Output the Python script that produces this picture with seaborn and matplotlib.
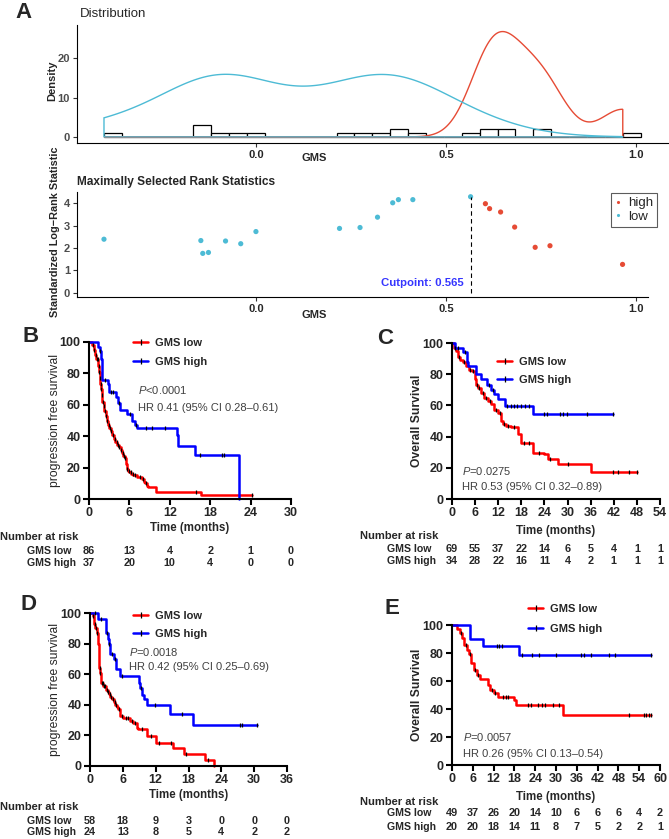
import numpy as np
import pandas as pd
import matplotlib
matplotlib.use('Agg')
import matplotlib.pyplot as plt
import seaborn as sns
from matplotlib.lines import Line2D
from matplotlib.transforms import blended_transform_factory

# ---------------- panel A: maximally selected rank statistics ----------------
gms = [-0.40, -0.145, -0.14, -0.125, -0.08, -0.04, 0.0, 0.22, 0.274, 0.32, 0.36,
       0.375, 0.413, 0.565, 0.604, 0.615, 0.644, 0.681, 0.735, 0.774, 0.965]
stat = [2.39, 2.33, 1.76, 1.80, 2.31, 2.19, 2.73, 2.87, 2.91, 3.37, 4.01,
        4.15, 4.15, 4.28, 3.97, 3.75, 3.60, 2.93, 2.03, 2.10, 1.27]
group = ['low'] * 14 + ['high'] * 7
cutpoint = 0.565

# ---------------- panel B: PFS cohort 1 ----------------
b_low_t = [0, 0.5, 0.7, 0.9, 1.1, 1.4, 1.5, 1.6, 1.7, 1.8, 1.9, 2.0, 2.2, 2.3, 2.5, 2.6, 2.8,
           3.0, 3.2, 3.4, 3.7, 3.9, 4.2, 4.4, 4.7, 4.9, 5.1, 5.3, 5.5, 5.6, 5.8, 6.0, 6.3,
           6.6, 7.2, 7.8, 8.1, 8.3, 8.6, 8.8, 10.0, 16.7, 24.2]
b_low_s = [100, 98, 95, 92, 89, 85, 81, 77, 73, 70, 66, 62, 59, 56, 53, 50, 47,
           45, 43, 41, 38, 36, 34.5, 33, 31, 29, 27.5, 26, 22, 19, 18, 17, 16,
           15, 14, 13, 11, 10, 8.5, 7.5, 4.7, 2.3, 2.3]
b_low_c = [0.6, 0.8, 1.0, 1.2, 1.3, 1.45, 1.55, 1.65, 1.75, 1.85, 1.95, 2.1, 2.25, 2.4,
           2.55, 2.7, 2.9, 3.1, 3.3, 3.5, 3.8, 4.1, 4.3, 4.5, 4.8, 5.0, 5.2, 5.4, 5.7, 5.9,
           6.2, 6.5, 6.9, 7.5, 8.0, 8.5, 15.9, 24.2]
b_high_t = [0, 1.3, 1.6, 1.8, 2.0, 2.8, 3.0, 4.0, 4.3, 4.6, 5.7, 6.4, 6.8, 7.2, 13.0, 13.2,
            15.7, 22.3]
b_high_s = [100, 97, 94, 89, 76, 73, 68, 65, 61, 57, 54, 50, 47, 45, 41, 34, 28, 0]
b_high_c = [1.7, 2.4, 3.3, 3.6, 4.5, 6.1, 7.0, 8.4, 9.3, 11.3, 16.5, 19.8, 20.1]
b_times = [0, 6, 12, 18, 24, 30]
b_risk_low = [86, 13, 4, 2, 1, 0]
b_risk_high = [37, 20, 10, 4, 0, 0]

# ---------------- panel C: OS cohort 1 ----------------
c_low_t = [0, 0.5, 1.1, 1.5, 2.2, 2.8, 3.7, 4.3, 5.2, 5.9, 6.3, 6.7, 7.6, 8.4, 9.3, 10.2,
           11.0, 11.9, 12.8, 13.2, 14.1, 15.3, 17.1, 17.9, 20.9, 24.0, 24.8, 27.4, 36.0, 48.0]
c_low_s = [100, 97, 95, 91, 89, 88, 85, 83, 82, 77, 73, 71, 68, 65, 63, 61,
           57, 55, 50, 48, 47, 46, 41.5, 36, 29.8, 28.7, 25.5, 22.3, 17.5, 17.5]
c_low_c = [0.8, 1.8, 3.0, 4.6, 5.5, 6.5, 6.9, 8.0, 8.9, 9.8, 11.5, 12.4, 13.6, 14.6, 16.0,
           18.8, 20.1, 22.5, 25.5, 30.0, 41.9, 43.0, 46.0, 48.0]
c_high_t = [0, 0.9, 2.8, 3.9, 4.1, 6.3, 7.6, 9.1, 10.1, 11.0, 11.9, 13.8, 20.9, 41.9]
c_high_s = [100, 97, 94, 88, 85, 80, 77, 73, 70, 67, 64, 59.6, 54.3, 54.3]
c_high_c = [1.5, 3.3, 9.6, 10.6, 14.3, 15.3, 16.1, 17.0, 17.9, 18.9, 20.0, 24.0, 24.7,
            28.1, 28.8, 29.8, 35.0, 41.9]
c_times = [0, 6, 12, 18, 24, 30, 36, 42, 48, 54]
c_risk_low = [69, 55, 37, 22, 14, 6, 5, 4, 1, 1]
c_risk_high = [34, 28, 22, 16, 11, 4, 2, 1, 1, 1]

# ---------------- panel D: PFS cohort 2 ----------------
d_low_t = [0, 0.5, 0.8, 1.0, 1.2, 1.4, 1.5, 1.6, 1.7, 1.8, 2.0, 2.1, 2.4, 2.9, 3.2, 3.4,
           3.7, 4.0, 4.3, 4.6, 4.9, 5.1, 5.5, 6.1, 7.3, 7.9, 8.5, 8.8, 10.4, 12.0, 15.1,
           17.1, 21.1, 22.7]
d_low_s = [100, 98, 93, 90, 87, 83, 80, 67, 64, 61, 57, 54, 52, 50, 48.5, 47,
           45, 43.5, 42, 40, 38.5, 37, 33, 31.5, 29.5, 28, 25, 24, 19.6, 15.2, 12,
           7.6, 3.9, 0]
d_low_c = [0.6, 0.9, 1.1, 1.3, 1.75, 1.9, 2.2, 2.3, 2.6, 2.7, 3.1, 3.3, 3.6, 3.9, 4.2,
           4.5, 4.8, 5.3, 5.8, 6.5, 7.0, 7.6, 8.2, 9.5, 11.2, 12.6, 14.8, 17.5, 21.5]
d_high_t = [0, 1.5, 2.9, 3.0, 3.2, 3.4, 3.7, 4.3, 4.7, 5.5, 9.0, 9.1, 9.5, 9.9, 10.5, 14.6,
            18.9, 30.5]
d_high_s = [100, 96, 91, 87, 83, 80, 73.5, 70, 63.5, 58.7, 54, 51, 46.7, 43.5, 39.6, 33.7,
            27.0, 27.0]
d_high_c = [1.0, 2.1, 3.1, 3.5, 4.0, 4.5, 5.8, 9.3, 11.9, 16.8, 27.4, 27.7, 30.5]
d_times = [0, 6, 12, 18, 24, 30, 36]
d_risk_low = [58, 18, 9, 3, 0, 0, 0]
d_risk_high = [24, 13, 8, 5, 4, 2, 2]

# ---------------- panel E: OS cohort 2 ----------------
e_low_t = [0, 1.5, 2.2, 2.9, 3.6, 4.3, 4.8, 5.6, 6.3, 7.3, 8.0, 10.4, 11.1, 12.0, 13.2,
           17.8, 18.5, 31.9, 57.3]
e_low_s = [100, 97, 94.5, 91, 86, 82.5, 79, 73, 68, 64.6, 61.2, 57, 53.8, 51.4, 48.3,
           46.7, 42.6, 35.9, 35.9]
e_low_c = [2.5, 3.9, 5.2, 6.6, 7.6, 11.5, 12.5, 14.7, 15.7, 16.1, 21.9, 22.8, 24.7, 26.0,
           26.7, 29.0, 31.0, 51.0, 55.4, 56.0, 56.7, 57.3]
e_high_t = [0, 5.1, 8.9, 19.2, 57.3]
e_high_s = [100, 90.2, 84.9, 78.5, 78.5]
e_high_c = [13.0, 13.7, 14.4, 20.1, 23.0, 25.2, 30.0, 37.2, 38.2, 40.1, 45.2, 47.1, 57.3]
e_times = [0, 6, 12, 18, 24, 30, 36, 42, 48, 54, 60]
e_risk_low = [49, 37, 26, 20, 14, 10, 6, 6, 6, 4, 2]
e_risk_high = [20, 20, 18, 14, 11, 8, 7, 5, 2, 2, 1]

NPG_RED, NPG_CYAN = '#E64B35', '#4DBBD5'
RED, BLUE = '#FF0000', '#0000FF'

sns.set_style('ticks')
plt.rcParams['font.family'] = ['Liberation Sans', 'DejaVu Sans']
plt.rcParams['mathtext.fontset'] = 'custom'
plt.rcParams['mathtext.it'] = 'Liberation Sans:italic'
plt.rcParams['mathtext.rm'] = 'Liberation Sans'

W, H = 669, 839
fig = plt.figure(figsize=(W / 100, H / 100), dpi=100)


def box(x0, y0, x1, y1):
    # pixel box (top-left origin) -> figure fraction rect
    return [x0 / W, 1 - y1 / H, (x1 - x0) / W, (y1 - y0) / H]


def count_density(vals, grid):
    # gaussian kde scaled to counts, bandwidth as R's bw.nrd0
    v = np.asarray(vals)
    q75, q25 = np.percentile(v, [75, 25])
    bw = 0.9 * min(v.std(ddof=1), (q75 - q25) / 1.34) * len(v) ** -0.2
    z = (grid[:, None] - v[None, :]) / bw
    return np.exp(-0.5 * z ** 2).sum(axis=1) / (bw * np.sqrt(2 * np.pi))


def style_a(ax):
    sns.despine(ax=ax)
    for sp in ['left', 'bottom']:
        ax.spines[sp].set_linewidth(0.8)
        ax.spines[sp].set_color('black')
    ax.tick_params(length=3, width=0.8, pad=2, labelsize=8, color='#333333')
    ax.tick_params(axis='y', labelcolor='#4D4D4D')
    for lab in ax.get_xticklabels() + ax.get_yticklabels():
        lab.set_fontweight('bold')


# ---- A: distribution
ax_d = fig.add_axes(box(77, 25, 668, 143))
lo, hi = min(gms), max(gms)
bw_hist = (hi - lo) / 29
edges = lo - 1e-6 + bw_hist * np.arange(31)
sns.histplot(x=gms, bins=edges, color='white', edgecolor='black', alpha=1, linewidth=0.9, ax=ax_d)
grid = np.linspace(lo, hi, 400)
for grp, col in [('high', NPG_RED), ('low', NPG_CYAN)]:
    vals = [g for g, k in zip(gms, group) if k == grp]
    dens = count_density(vals, grid)
    ax_d.fill(np.r_[lo, grid, hi], np.r_[0, dens, 0], facecolor='none', edgecolor=col, lw=1.0)
ax_d.set_xlim(-0.471, 1.084)
ax_d.set_ylim(-1.55, 28.5)
ax_d.set_xticks([0, 0.5, 1.0], ['0.0', '0.5', '1.0'])
ax_d.set_yticks([0, 10, 20])
style_a(ax_d)
ax_d.set_xlabel('GMS', fontsize=8, fontweight='bold', va='center')
ax_d.xaxis.set_label_coords(0.401, -0.13)
ax_d.set_ylabel('Density', fontsize=8, fontweight='bold', va='center')
ax_d.yaxis.set_label_coords(-0.042, 0.53)
fig.text(80 / W, 1 - 14 / H, 'Distribution', fontsize=9.5, va='center', ha='left')

# ---- A: maximally selected rank statistics
ax_s = fig.add_axes(box(77, 192, 648, 297))
df_a = pd.DataFrame({'GMS': gms, 'stat': stat, 'group': group})
sns.scatterplot(data=df_a, x='GMS', y='stat', hue='group', hue_order=['high', 'low'],
                palette=[NPG_RED, NPG_CYAN], s=14, edgecolor='none', ax=ax_s)
ax_s.vlines(cutpoint, 0, max(stat), colors='black', linestyles=(0, (4, 3)), lw=0.8)
ax_s.text(cutpoint - 0.018, 0.44, f'Cutpoint: {cutpoint}', color='#3535FF', fontsize=8.2,
          fontweight='bold', ha='right', va='center')
ax_s.set_xlim(-0.471, 1.032)
ax_s.set_ylim(-0.18, 4.49)
ax_s.set_xticks([0, 0.5, 1.0], ['0.0', '0.5', '1.0'])
ax_s.set_yticks([0, 1, 2, 3, 4])
style_a(ax_s)
ax_s.set_xlabel('GMS', fontsize=8, fontweight='bold', va='center')
ax_s.xaxis.set_label_coords(0.415, -0.17)
ax_s.set_ylabel('Standardized Log\u2212Rank Statistic', fontsize=7.8, fontweight='bold', va='center')
ax_s.yaxis.set_label_coords(-0.0385, 0.62)
handles, labels = ax_s.get_legend_handles_labels()
leg = ax_s.legend(handles, labels, loc='upper left', bbox_to_anchor=(611 / W, 1 - 193 / H),
                  bbox_transform=fig.transFigure, borderaxespad=0, frameon=True, fancybox=False,
                  edgecolor='#333333', fontsize=9.5, markerscale=0.6, handlelength=0.5,
                  handletextpad=0.5, borderpad=0.3, labelspacing=0.1)
leg.get_frame().set_linewidth(0.8)
fig.text(77 / W, 1 - 182 / H, 'Maximally Selected Rank Statistics', fontsize=8.6,
         fontweight='bold', va='center', ha='left')


# ---------------- KM helpers ----------------
def km_panel(ax, curves, xmax, xstep, ylabel, ylab_bold, ylab_x, xlab_y):
    for t, s, c, col in curves:
        sns.lineplot(x=t, y=s, drawstyle='steps-post', color=col, lw=1.8, estimator=None,
                     sort=False, ax=ax, clip_on=False)
        idx = np.searchsorted(t, c, side='right') - 1
        ax.plot(c, np.asarray(s)[idx], ls='none', marker='|', color='black', ms=3.5, mew=0.9,
                clip_on=False, zorder=4)
    ax.set_xlim(0, xmax)
    ax.set_ylim(0, 100)
    ax.set_xticks(range(0, xmax + 1, xstep))
    ax.set_yticks(range(0, 101, 20))
    sns.despine(ax=ax)
    for sp in ['left', 'bottom']:
        ax.spines[sp].set_linewidth(1.5)
        ax.spines[sp].set_color('black')
    ax.tick_params(length=4, width=1.5, pad=2, labelsize=9, color='black')
    for lab in ax.get_xticklabels() + ax.get_yticklabels():
        lab.set_fontweight('bold')
    ax.set_xlabel('Time (months)', fontsize=8.3, fontweight='bold', va='center')
    ax.xaxis.set_label_coords(0.5, xlab_y)
    ax.set_ylabel(ylabel, fontsize=8.7, fontweight='bold' if ylab_bold else 'normal', va='center')
    ax.yaxis.set_label_coords(ylab_x, 0.5)


def km_legend(ax, x_px, y_px, spacing):
    hs = [Line2D([], [], color=RED, lw=1.8, marker='|', ms=4, mec='black', mew=0.9),
          Line2D([], [], color=BLUE, lw=1.8, marker='|', ms=4, mec='black', mew=0.9)]
    ax.legend(hs, ['GMS low', 'GMS high'], loc='upper left',
              bbox_to_anchor=(x_px / W, 1 - (y_px - 4) / H), bbox_transform=fig.transFigure,
              frameon=False, borderpad=0, borderaxespad=0, handlelength=1.35,
              handletextpad=0.6, labelspacing=spacing, prop={'weight': 'bold', 'size': 8})


def km_text(ax, x, y1, y2, ptxt, hrtxt):
    ax.text(x, y1, ptxt, transform=ax.transAxes, fontsize=8, color='#404040', va='center')
    ax.text(x, y2, hrtxt, transform=ax.transAxes, fontsize=8, color='#404040', va='center')


def risk_table(ax, times, n_low, n_high, x_title, y_title, x_names, y_low, y_high):
    tr = blended_transform_factory(ax.transData, fig.transFigure)
    fig.text(x_title / W, 1 - y_title / H, 'Number at risk', fontsize=8, fontweight='bold', va='center')
    fig.text(x_names / W, 1 - y_low / H, 'GMS low', fontsize=7.6, fontweight='bold', va='center')
    fig.text(x_names / W, 1 - y_high / H, 'GMS high', fontsize=7.6, fontweight='bold', va='center')
    for t, a, b in zip(times, n_low, n_high):
        ax.text(t, 1 - y_low / H, str(a), transform=tr, ha='center', va='center', fontsize=7.8,
                fontweight='bold')
        ax.text(t, 1 - y_high / H, str(b), transform=tr, ha='center', va='center', fontsize=7.8,
                fontweight='bold')


# ---- B
ax_b = fig.add_axes(box(89, 342, 291, 499))
km_panel(ax_b, [(b_low_t, b_low_s, b_low_c, RED), (b_high_t, b_high_s, b_high_c, BLUE)],
         30, 6, 'progression free survival', False, -0.168, -0.185)
km_legend(ax_b, 133, 342, 0.77)
km_text(ax_b, 0.243, 0.694, 0.580, r'$\mathit{P}$<0.0001', 'HR 0.41 (95% CI 0.28\u20130.61)')
risk_table(ax_b, b_times, b_risk_low, b_risk_high, 0, 537, 27, 551, 563)

# ---- C
ax_c = fig.add_axes(box(452, 343, 660, 499))
km_panel(ax_c, [(c_low_t, c_low_s, c_low_c, RED), (c_high_t, c_high_s, c_high_c, BLUE)],
         54, 6, 'Overall Survival', True, -0.168, -0.205)
km_legend(ax_c, 497, 361, 0.72)
km_text(ax_c, 0.048, 0.179, 0.077, r'$\mathit{P}$=0.0275', 'HR 0.53 (95% CI 0.32\u20130.89)')
risk_table(ax_c, c_times, c_risk_low, c_risk_high, 360, 536, 387, 549, 561)

# ---- D
ax_dd = fig.add_axes(box(90, 613, 287, 766))
km_panel(ax_dd, [(d_low_t, d_low_s, d_low_c, RED), (d_high_t, d_high_s, d_high_c, BLUE)],
         36, 6, 'progression free survival', False, -0.178, -0.19)
km_legend(ax_dd, 133, 615, 0.72)
km_text(ax_dd, 0.198, 0.745, 0.647, r'$\mathit{P}$=0.0018', 'HR 0.42 (95% CI 0.25\u20130.69)')
risk_table(ax_dd, d_times, d_risk_low, d_risk_high, 0, 807, 27, 821, 832)

# ---- E
ax_e = fig.add_axes(box(452, 625, 660, 765))
km_panel(ax_e, [(e_low_t, e_low_s, e_low_c, RED), (e_high_t, e_high_s, e_high_c, BLUE)],
         60, 6, 'Overall Survival', True, -0.168, -0.229)
km_legend(ax_e, 528, 608, 0.87)
km_text(ax_e, 0.053, 0.200, 0.079, r'$\mathit{P}$=0.0057', 'HR 0.26 (95% CI 0.13\u20130.54)')
risk_table(ax_e, e_times, e_risk_low, e_risk_high, 360, 802, 387, 813, 827)

# ---- panel letters
for letter, x, y in [('A', 24, 13), ('B', 31, 337), ('C', 385, 338), ('D', 29, 604), ('E', 392, 609)]:
    fig.text(x / W, 1 - y / H, letter, fontsize=16, fontweight='bold', ha='center', va='center')

fig.savefig('out.png', dpi=100)
